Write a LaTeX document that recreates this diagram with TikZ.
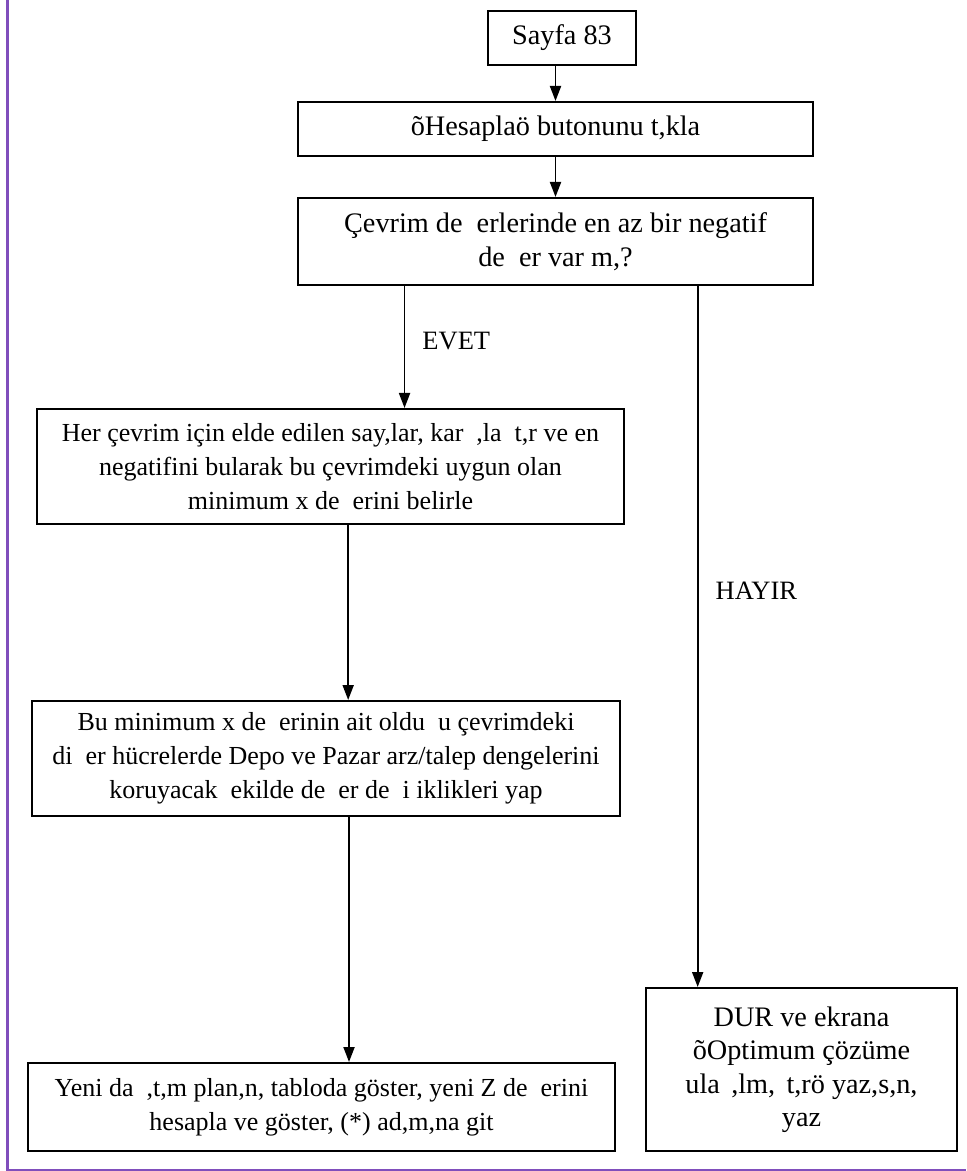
\documentclass[tikz,border=0pt]{standalone}
\usepackage{fontspec}
\setmainfont{Liberation Serif}
\usepackage{tikz}
\usepackage{xcolor}
\usetikzlibrary{arrows.meta,calc,positioning,shapes}
\definecolor{framepurple}{RGB}{128,78,188}
\tikzset{%
	block/.style    = {draw, line width=0.8pt, rectangle, align=center, inner sep=0pt,
	                   font=\fontsize{11.3}{13.4}\selectfont}, % Box
	dense/.style    = {font=\fontsize{10.4}{13.6}\selectfont}, % long texts
	answer/.style   = {inner sep=0pt, font=\fontsize{10.6}{13.6}\selectfont}, % EVET / HAYIR
	arrow/.style    = {line width=0.75pt, -{Triangle[length=6pt,width=4.4pt]}},
	frame/.style    = {draw=framepurple, line width=1.2pt},
}

\begin{document}
\begin{tikzpicture}[x=0.4pt,y=-0.4pt]
		\useasboundingbox (0,0) rectangle (966,1171);
		\draw[frame] (7,0) -- (7,1170) -- (966,1170);
		\node [block, minimum width=59.2pt, minimum height=21.6pt] (page) at (562,38) {Sayfa 83};
		\node [block, minimum width=206pt, minimum height=21.6pt] (press) at (555.5,129) {õHesaplaö butonunu t,kla};
		\node [block, minimum width=206pt, minimum height=34.8pt] (check) at (555.5,241.5)
			{Çevrim de\ \ erlerinde en az bir negatif\\de\ \ er var m,?};
		\node [block, dense, minimum width=234.8pt, minimum height=46pt] (cycles) at (330.5,466.5)
			{Her çevrim için elde edilen say,lar, kar\ \ ,la\ \ t,r ve en\\negatifini bularak bu çevrimdeki uygun olan\\minimum x de\ \ erini belirle};
		\node [block, dense, minimum width=235.2pt, minimum height=46pt] (shift) at (326,758.5)
			{Bu minimum x de\ \ erinin ait oldu\ \ u çevrimdeki\\di\ \ er hücrelerde Depo ve Pazar arz/talep dengelerini\\koruyacak\ \ ekilde de\ \ er de\ \ i iklikleri yap};
		\node [block, dense, minimum width=234.8pt, minimum height=35.2pt] (plan) at (321.5,1107)
			{Yeni da\ \ ,t,m plan,n, tabloda göster, yeni Z de\ \ erini\\hesapla ve göster, (*) ad,m,na git};
		\node [block, minimum width=124.4pt, minimum height=65.2pt] (stop) at (801.5,1069.5)
			{DUR ve ekrana\\õOptimum çözüme\\ula\hspace{0.4em},lm,\hspace{0.4em}t,rö yaz,s,n,\\yaz};
		% branch points
		\coordinate (yes) at ($(check.south west)!0.208!(check.south east)$);
		\coordinate (no) at ($(check.south west)!0.775!(check.south east)$);
		\coordinate (down1) at ($(cycles.south west)!0.530!(cycles.south east)$);
		\coordinate (down2) at ($(shift.south west)!0.539!(shift.south east)$);
		\draw[arrow] (page.south -| press.north) -- (press.north);
		\draw[arrow] (press) -- (check);
		\draw[arrow] (yes) -- node [answer, pos=0.45, right=6.8pt] {EVET} (yes |- cycles.north);
		\draw[arrow] (no) -- node [answer, pos=0.435, right=6.8pt] {HAYIR} (no |- stop.north);
		\draw[arrow] (down1) -- (down1 |- shift.north);
		\draw[arrow] (down2) -- (down2 |- plan.north);
	\end{tikzpicture}
\end{document}
